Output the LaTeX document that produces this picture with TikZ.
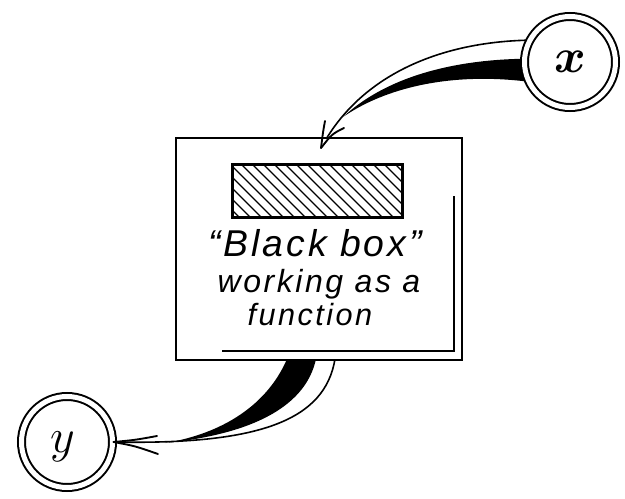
\documentclass[tikz,border=0pt]{standalone}
\usepackage{graphicx}
\usepackage{fontspec}
\newfontfamily\hand[LetterSpace=8]{Liberation Sans}
\usetikzlibrary{calc,backgrounds}
\begin{document}
\begin{tikzpicture}[x=0.75pt,y=-0.75pt,
 ring/.style={circle,draw,fill=white,line width=1.5pt,double distance=3.75pt,minimum size=68.25pt,inner sep=0pt},
 frame/.style={draw,fill=white,line width=1.5pt,minimum width=214.5pt,minimum height=166.5pt,inner sep=0pt},
 hatchbox/.style={draw,line width=1.5pt,minimum width=126.75pt,minimum height=39pt,inner sep=0pt},
 varlbl/.style={font=\fontsize{24.88}{28}\selectfont,inner sep=0pt},
 thinline/.style={line width=1.2pt},
 barb/.style={line width=1.4pt,line cap=round},
 lbl/.style={anchor=base, inner sep=0pt}]
\useasboundingbox (0,0) rectangle (625,499);
% nodes
\node[ring] (X) at (570,62) {};
\node[varlbl] (xl) at (570,62) {\scalebox{1.45}{\boldmath$x$}};
\node[ring] (Y) at (67,442) {};
\node[varlbl] (yl) at (63,447) {\scalebox{1.45}{$y$}};
\node[frame] (B) at (319,249) {};
\node[hatchbox] (H) at (317.5,191) {};
\begin{scope}
  \clip (H.south west) rectangle (H.north east);
  \foreach \i in {-60,-49,...,420} {
    \draw[line width=1pt] (\i,160) -- (\i+62,222);
  }
\end{scope}
\draw[hatchbox,fill=none] (H.south west) rectangle (H.north east);
% shadow line inside frame
\draw[line width=1.5pt] ($(B.south west)+(47,-10)$) -- ($(B.south east)+(-9,-10)$) -- ($(B.north east)+(-9,59)$);
% text
\node[lbl,font=\hand\itshape\fontsize{28}{30}\selectfont] (t1) at (315,257) {“Black box”};
\node[lbl,font=\hand\itshape\fontsize{24}{26}\selectfont] (t2) at (319,292) {working as a};
\node[lbl,font=\hand\itshape\fontsize{23}{26}\selectfont] (t3) at (310,325) {function};
% connectors
\coordinate (T) at (321,148);
\begin{scope}[on background layer]
  \fill (X.176) .. controls (450,60) and (385,78) .. (343,117)
        .. controls (385,88) and (450,72) .. (X.205) -- cycle;
  \draw[thinline] (X.152) .. controls (440,42) and (360,75) .. (T);
  \draw[thinline] (T) -- (H.north);
  \fill ($(B.south west)+(112,-2)$) .. controls (265,410) and (215,435) .. (165,443)
        .. controls (245,435) and (305,410) .. ($(B.south west)+(141,-2)$) -- cycle;
  \draw[thinline] ($(B.south west)+(160,-2)$) .. controls (325,420) and (260,445) .. (Y.east);
\end{scope}
\draw[barb] (325,121) .. controls (323,132) .. (T);
\draw[barb] (344,128) .. controls (332,134) .. (T);
\draw[barb] (157,436) .. controls (135,440) .. (Y.east);
\draw[barb] (158,454) .. controls (135,446) .. (Y.east);
\end{tikzpicture}
\end{document}
